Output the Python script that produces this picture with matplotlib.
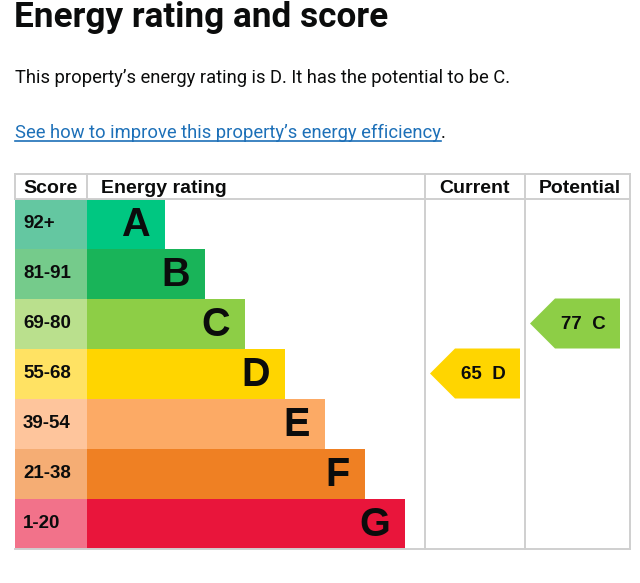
import matplotlib
matplotlib.use("Agg")
import matplotlib.pyplot as plt
from matplotlib.patches import Polygon

# chart data
bands = ["A", "B", "C", "D", "E", "F", "G"]
score_ranges = ["92+", "81-91", "69-80", "55-68", "39-54", "21-38", "1-20"]
band_lower = [92, 81, 69, 55, 39, 21, 1]
bar_colors = ["#00c781", "#19b459", "#8dce46", "#ffd500", "#fcaa65", "#ef8023", "#e9153b"]
score_colors = ["#64c7a1", "#75cb8b", "#bae08d", "#ffe263", "#fec59c", "#f5ad74", "#f2728a"]
current_score = 65
potential_score = 77

TITLE = "Energy rating and score"
SUMMARY = "This property\u2019s energy rating is D. It has the potential to be C."
LINK = "See how to improve this property\u2019s energy efficiency"

W, H = 640, 583
fig = plt.figure(figsize=(W / 100, H / 100), dpi=100)
ax = fig.add_axes([0, 0, 1, 1])
ax.set_xlim(0, W)
ax.set_ylim(H, 0)
ax.axis("off")

ink = "#0b0c0c"
grid = "#cfcfcf"
bold = dict(family="Liberation Sans", weight="bold", color=ink)

# text above the table
ax.text(14, 27, TITLE, fontsize=25.3, fontweight="bold", family="Roboto",
        color=ink, va="baseline")
ax.text(15, 83, SUMMARY, fontsize=13.2, family="Roboto", color=ink, va="baseline")
link = ax.text(15, 138, LINK, fontsize=13.2, family="Roboto", color="#1d70b8",
               va="baseline")
fig.canvas.draw()
bb = link.get_window_extent().transformed(ax.transData.inverted())
ax.plot([15, bb.x1], [141, 141], color="#1d70b8", lw=1.2)
ax.text(bb.x1, 138, ".", fontsize=13.2, family="Roboto", color=ink, va="baseline")

# table geometry
left, score_x, bar_x, cur_x, pot_x, right = 15, 15, 87, 425, 525, 630
top, head_bot, row_h = 174, 198.5, 50
n = len(bands)
bottom = head_bot + n * row_h
rows = [head_bot + row_h * (i + 0.5) for i in range(n)]

# band bars and score cells
widths = [78 + 40 * i for i in range(n)]
ax.barh(rows, [bar_x - score_x] * n, left=score_x, height=row_h,
        color=score_colors, linewidth=0)
ax.barh(rows, widths, left=bar_x, height=row_h, color=bar_colors, linewidth=0)
for y, s, b, w in zip(rows, score_ranges, bands, widths):
    ax.text(23, y, s, fontsize=13.5, va="center", ha="left", **bold)
    ax.text(bar_x + w - 15, y + 1, b, fontsize=28.5, va="center", ha="right", **bold)

# grid lines
lw = 1.4
ax.plot([left, right], [top, top], color=grid, lw=lw)
ax.plot([left, right], [head_bot, head_bot], color=grid, lw=lw)
ax.plot([left, right], [bottom, bottom], color=grid, lw=lw)
for x in (left, bar_x):
    ax.plot([x, x], [top, head_bot], color=grid, lw=lw)
for x in (cur_x, pot_x, right):
    ax.plot([x, x], [top, bottom], color=grid, lw=lw)

# headers
hy = 193
ax.text(23, hy, "Score", fontsize=14, va="baseline", **bold)
ax.text(101, hy, "Energy rating", fontsize=14, va="baseline", **bold)
ax.text((cur_x + pot_x) / 2, hy, "Current", fontsize=14, va="baseline", ha="center", **bold)
ax.text((pot_x + right) / 2 + 2, hy, "Potential", fontsize=14, va="baseline", ha="center", **bold)


def band_index(score):
    for i, lo in enumerate(band_lower):
        if score >= lo:
            return i
    return n - 1


def arrow(x0, score):
    i = band_index(score)
    yc = rows[i]
    y0, y1 = yc - row_h / 2, yc + row_h / 2
    pts = [(x0, yc), (x0 + 25, y0), (x0 + 90, y0), (x0 + 90, y1), (x0 + 25, y1)]
    ax.add_patch(Polygon(pts, closed=True, facecolor=bar_colors[i], edgecolor="none"))
    ax.text(x0 + 53, yc + 1, f"{score}  {bands[i]}", fontsize=13.5,
            va="center", ha="center", **bold)


arrow(cur_x + 5, current_score)
arrow(pot_x + 5, potential_score)

fig.savefig("out.png", dpi=100)
